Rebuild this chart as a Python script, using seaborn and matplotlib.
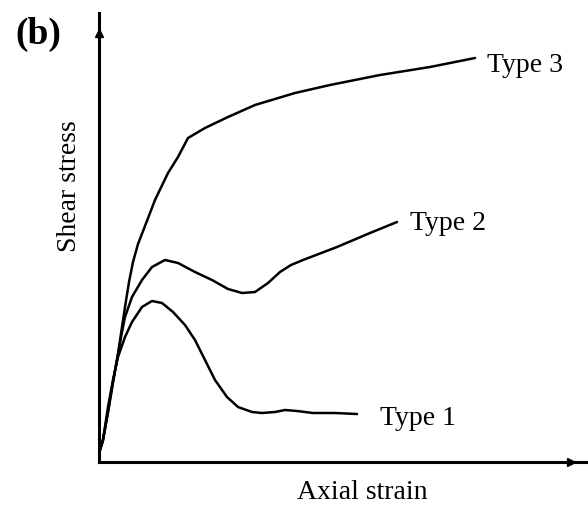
import pandas as pd
import matplotlib.pyplot as plt
import seaborn as sns

# values (arbitrary units: strain, stress)
type1_strain = [1, 4, 9, 14, 19, 26, 33, 43, 53, 63, 74, 86, 96, 106, 116, 128, 139, 153, 163, 176, 186, 198, 214, 236, 258]
type1_stress = [12, 22, 55, 82, 105, 125, 140, 155, 161, 159, 150, 137, 122, 102, 82, 65, 55, 50, 49, 50, 52, 51, 49, 49, 48]

type2_strain = [1, 4, 9, 14, 19, 23, 26, 33, 43, 53, 66, 79, 96, 113, 129, 143, 156, 169, 181, 192, 204, 238, 271, 298]
type2_stress = [12, 22, 50, 80, 108, 130, 145, 165, 182, 195, 202, 199, 190, 182, 173, 169, 170, 179, 190, 197, 202, 215, 229, 240]

type3_strain = [1, 4, 9, 14, 19, 23, 26, 30, 34, 39, 46, 56, 69, 79, 89, 106, 129, 156, 196, 231, 281, 331, 376]
type3_stress = [12, 22, 50, 80, 108, 135, 155, 180, 200, 218, 236, 262, 289, 305, 324, 334, 345, 357, 369, 377, 387, 395, 404]

labels = ["Type 1", "Type 2", "Type 3"]

frames = []
for name, xs, ys in zip(labels,
                        [type1_strain, type2_strain, type3_strain],
                        [type1_stress, type2_stress, type3_stress]):
    frames.append(pd.DataFrame({"strain": xs, "stress": ys, "type": name}))
df = pd.concat(frames, ignore_index=True)

sns.set_style("white")
plt.rcParams['font.family'] = ['Liberation Serif', 'DejaVu Serif']
plt.rcParams['text.color'] = 'black'

fig = plt.figure(figsize=(5.88, 5.09), dpi=100)
ax = fig.add_axes([99 / 588, 47 / 509, 489 / 588, 449 / 509])

sns.lineplot(data=df, x="strain", y="stress", hue="type", units="type",
             estimator=None, sort=False, palette=["black"] * 3,
             linewidth=1.8, legend=False, ax=ax)

ax.set_xlim(0, 489)
ax.set_ylim(0, 449)
ax.set_xticks([])
ax.set_yticks([])
ax.set_xlabel("")
ax.set_ylabel("")
for side in ["top", "right"]:
    ax.spines[side].set_visible(False)
for side in ["left", "bottom"]:
    ax.spines[side].set_linewidth(2.2)
    ax.spines[side].set_color("black")

# arrow heads on the axes
ax.plot(0, 0.955, marker="^", color="black", markersize=6,
        transform=ax.transAxes, clip_on=False)
ax.plot(0.965, 0, marker=">", color="black", markersize=6,
        transform=ax.transAxes, clip_on=False)

# curve labels
ax.text(388, 390, "Type 3", fontsize=20, va="baseline")
ax.text(311, 232, "Type 2", fontsize=20, va="baseline")
ax.text(281, 37, "Type 1", fontsize=20, va="baseline")

fig.text(362 / 588, 10 / 509, "Axial strain", fontsize=20, ha="center", va="baseline")
fig.text(70 / 588, 323 / 509, "Shear stress", fontsize=20, rotation=90,
         ha="center", va="center")
fig.text(15 / 588, 465 / 509, "(b)", fontsize=27, fontweight="bold", va="baseline")

plt.savefig("out.png", dpi=100)
